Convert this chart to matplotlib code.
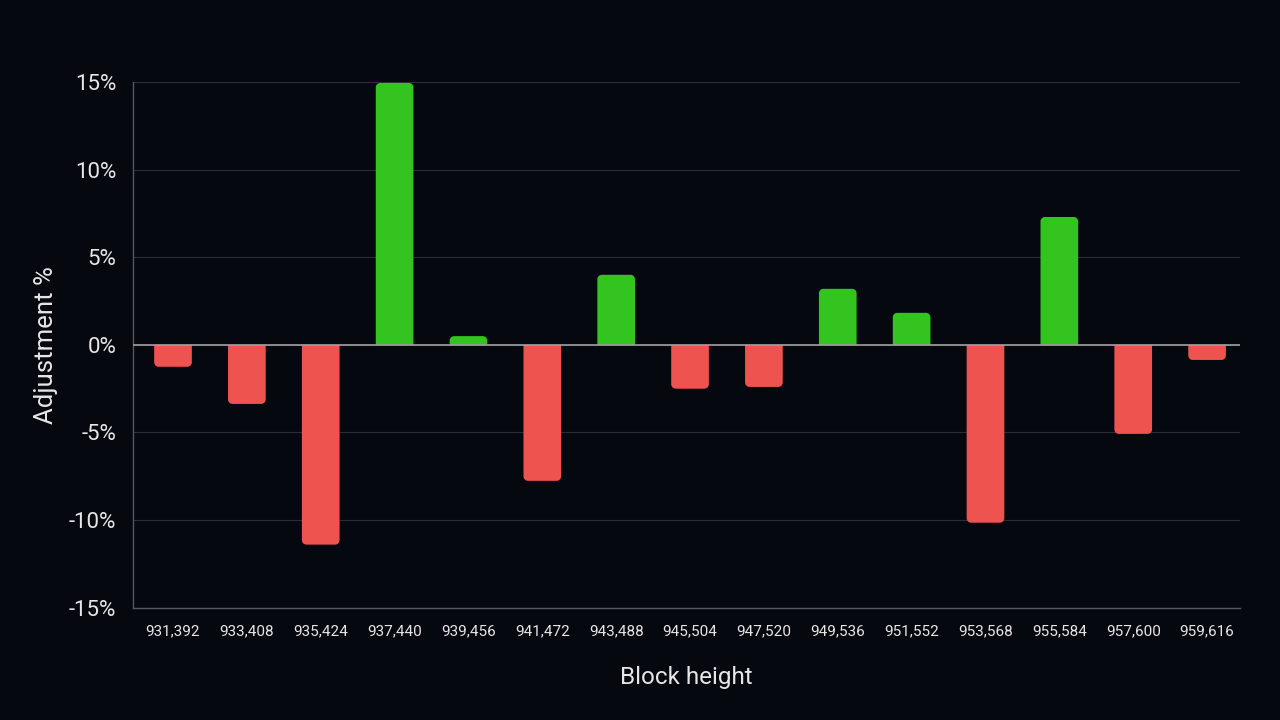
import matplotlib
matplotlib.use("Agg")
import matplotlib.pyplot as plt
import numpy as np
from matplotlib.patches import Polygon

heights = ["931,392", "933,408", "935,424", "937,440", "939,456", "941,472", "943,488",
           "945,504", "947,520", "949,536", "951,552", "953,568", "955,584", "957,600", "959,616"]
adjust = [-1.25, -3.37, -11.4, 14.95, 0.5, -7.76, 4.0, -2.5, -2.4, 3.2, 1.83, -10.15, 7.3, -5.08, -0.86]
yticks = [-15, -10, -5, 0, 5, 10, 15]

BG = "#05080f"
RED = "#ef5350"
GREEN = "#33c41f"
TXT = "#e6e6e6"

plt.rcParams['font.family'] = ['Roboto', 'DejaVu Sans']
fig = plt.figure(figsize=(12.8, 7.2), dpi=100, facecolor=BG)
ax = fig.add_axes([0.104, 0.156, 0.865, 0.730], facecolor=BG)

x = list(range(len(heights)))
colors = [GREEN if v >= 0 else RED for v in adjust]
bars = ax.bar(x, adjust, width=0.51, color=colors, zorder=3)

ax.set_xlim(-0.54, 14.45)
ax.set_ylim(-15, 15)

# rounded far-end corners (single polygon per bar, built from the bar geometry)
xpp = (14.45 + 0.54) / (0.865 * 1280)
ypp = 30 / (0.730 * 720)
rpx = 4.5
t = np.linspace(0, np.pi / 2, 12)
for b, c in zip(bars, colors):
    bx, bw, bh = b.get_x(), b.get_width(), b.get_height()
    b.set_visible(False)
    s = 1 if bh >= 0 else -1
    rx = min(rpx * xpp, bw / 2)
    ry = min(rpx * ypp, abs(bh))
    end = bh
    # left corner: from (bx, end - s*ry) to (bx+rx, end)
    lx = bx + rx - rx * np.cos(t)
    ly = end - s * ry + s * ry * np.sin(t)
    rxs = bx + bw - rx + rx * np.sin(t)
    rys = end - s * ry + s * ry * np.cos(t)
    pts = [(bx, 0)] + list(zip(lx, ly)) + list(zip(rxs, rys)) + [(bx + bw, 0)]
    ax.add_patch(Polygon(pts, closed=True, facecolor=c, edgecolor='none', zorder=3))

ax.set_yticks(yticks)
ax.set_yticklabels([f"{t}%" for t in yticks])
ax.set_xticks(x)
ax.set_xticklabels(heights)

ax.grid(axis='y', color="#2a2d35", linewidth=0.8, zorder=0)
ax.axhline(0, color="#a0a0a0", linewidth=1.2, zorder=4)

for s in ['top', 'right']:
    ax.spines[s].set_visible(False)
for s in ['left', 'bottom']:
    ax.spines[s].set_color("#55585f")
    ax.spines[s].set_linewidth(1.0)

ax.tick_params(axis='y', colors=TXT, labelsize=16, length=0, pad=12)
ax.tick_params(axis='x', colors=TXT, labelsize=11, length=0, pad=12)
ax.set_ylabel("Adjustment %", color=TXT, fontsize=18.5, labelpad=8)
ax.set_xlabel("Block height", color=TXT, fontsize=17.5, labelpad=20)

fig.savefig("out.png", dpi=100, facecolor=BG)
